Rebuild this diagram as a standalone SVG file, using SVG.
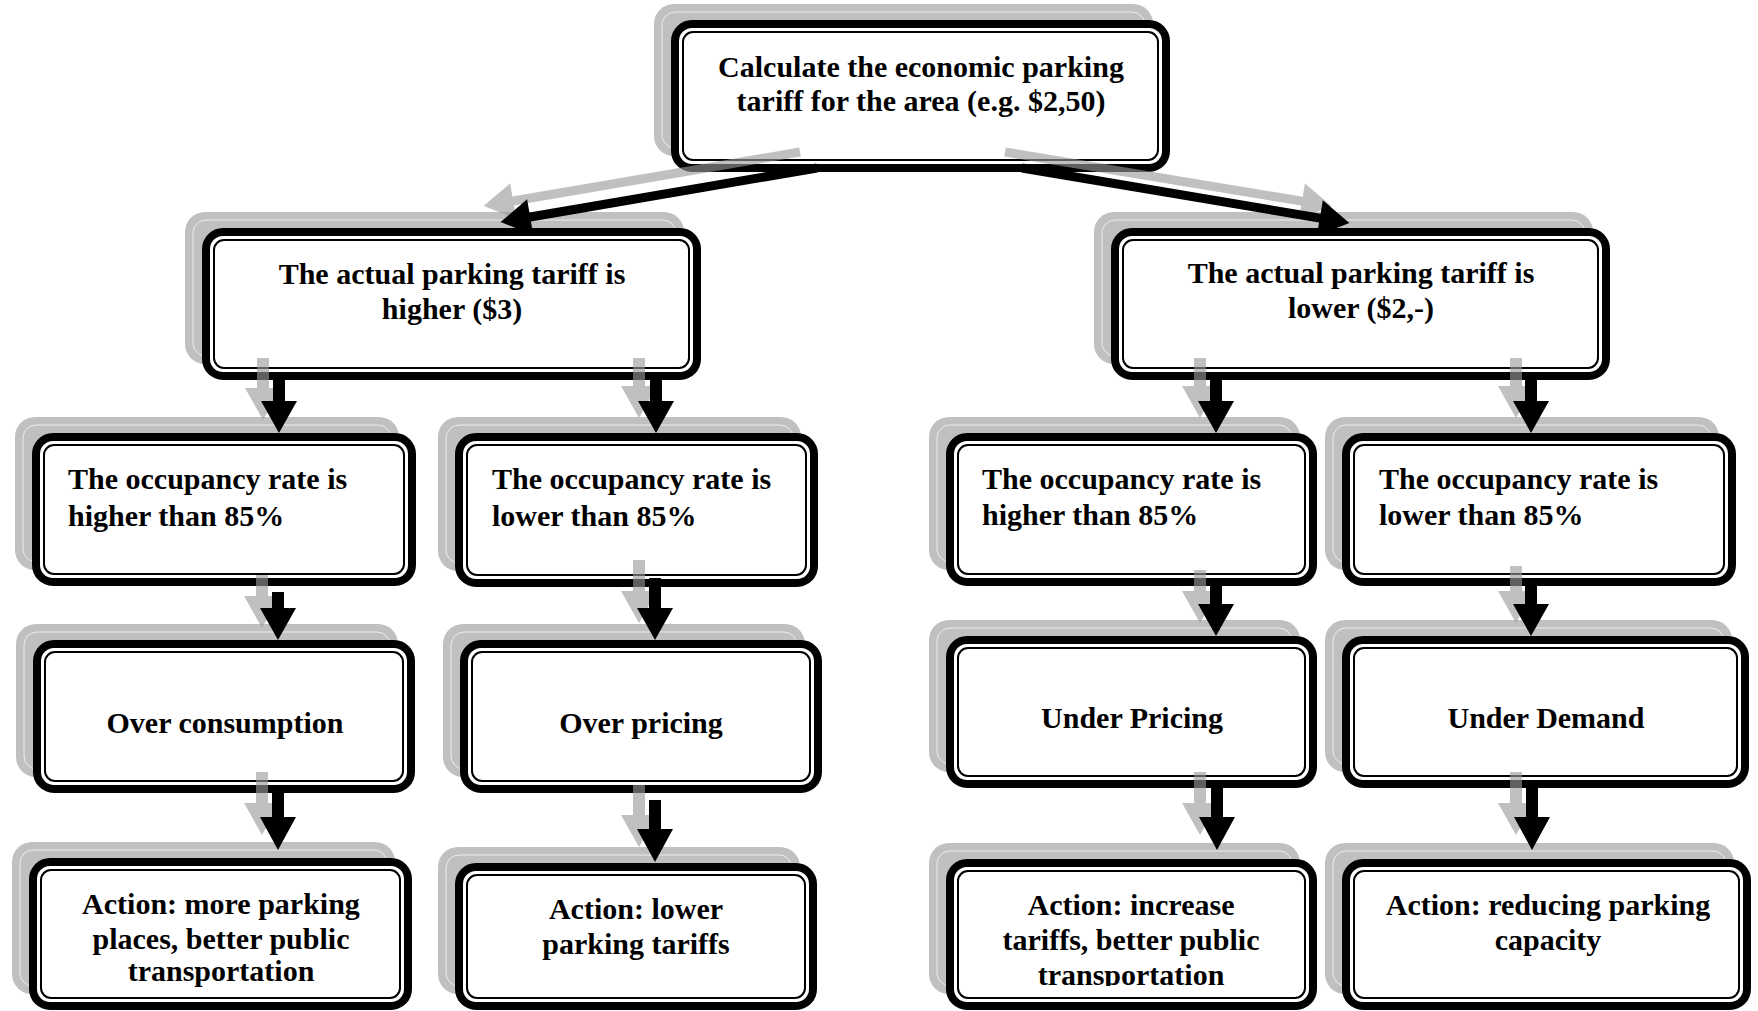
<svg xmlns="http://www.w3.org/2000/svg" width="1758" height="1011" viewBox="0 0 1758 1011">
<style>
.sh{fill:#c0c0c0}
.shl{fill:none;stroke:#ffffff;stroke-width:1;opacity:0.7}
.ob{fill:#ffffff;stroke:#000000;stroke-width:8}
.ib{fill:none;stroke:#000000;stroke-width:2}
.t{font-family:"Liberation Serif","Times New Roman",serif;font-weight:bold;font-size:30px;fill:#000000}
.c{text-anchor:middle}
.ga{fill:#999999;opacity:0.62}
.ba{fill:#000000}
</style>
<defs>
<clipPath id="clipR5a"><rect x="940" y="850" width="380" height="136"/></clipPath>
</defs>
<rect x="0" y="0" width="1758" height="1011" fill="#ffffff"/>

<g id="n0">
<rect class="sh" x="654" y="4" width="499" height="152" rx="20"/>
<rect class="shl" x="662" y="12" width="483" height="136" rx="13"/>
<rect class="ob" x="675" y="24" width="491" height="144" rx="17"/>
<rect class="ib" x="683" y="32" width="475" height="128" rx="10"/>
<text class="t c" x="921" y="77">Calculate the economic parking</text>
<text class="t c" x="921" y="111">tariff for the area (e.g. $2,50)</text>
</g>

<g id="n1">
<rect class="sh" x="185" y="212" width="499" height="152" rx="20"/>
<rect class="shl" x="193" y="220" width="483" height="136" rx="13"/>
<rect class="ob" x="206" y="232" width="491" height="144" rx="17"/>
<rect class="ib" x="214" y="240" width="475" height="128" rx="10"/>
<text class="t c" x="452" y="284">The actual parking tariff is</text>
<text class="t c" x="452" y="319">higher ($3)</text>
</g>

<g id="n2">
<rect class="sh" x="1094" y="212" width="499" height="152" rx="20"/>
<rect class="shl" x="1102" y="220" width="483" height="136" rx="13"/>
<rect class="ob" x="1115" y="232" width="491" height="144" rx="17"/>
<rect class="ib" x="1123" y="240" width="475" height="128" rx="10"/>
<text class="t c" x="1361" y="283">The actual parking tariff is</text>
<text class="t c" x="1361" y="318">lower ($2,-)</text>
</g>

<g id="n3">
<rect class="sh" x="15" y="417" width="384" height="153" rx="20"/>
<rect class="shl" x="23" y="425" width="368" height="137" rx="13"/>
<rect class="ob" x="36" y="437" width="376" height="145" rx="17"/>
<rect class="ib" x="44" y="445" width="360" height="129" rx="10"/>
<text class="t" x="68" y="489">The occupancy rate is</text>
<text class="t" x="68" y="526">higher than 85%</text>
</g>

<g id="n4">
<rect class="sh" x="438" y="417" width="363" height="154" rx="20"/>
<rect class="shl" x="446" y="425" width="347" height="138" rx="13"/>
<rect class="ob" x="459" y="437" width="355" height="146" rx="17"/>
<rect class="ib" x="467" y="445" width="339" height="130" rx="10"/>
<text class="t" x="492" y="489">The occupancy rate is</text>
<text class="t" x="492" y="526">lower than 85%</text>
</g>

<g id="n5">
<rect class="sh" x="929" y="417" width="371" height="153" rx="20"/>
<rect class="shl" x="937" y="425" width="355" height="137" rx="13"/>
<rect class="ob" x="950" y="437" width="363" height="145" rx="17"/>
<rect class="ib" x="958" y="445" width="347" height="129" rx="10"/>
<text class="t" x="982" y="489">The occupancy rate is</text>
<text class="t" x="982" y="525">higher than 85%</text>
</g>

<g id="n6">
<rect class="sh" x="1325" y="417" width="394" height="153" rx="20"/>
<rect class="shl" x="1333" y="425" width="378" height="137" rx="13"/>
<rect class="ob" x="1346" y="437" width="386" height="145" rx="17"/>
<rect class="ib" x="1354" y="445" width="370" height="129" rx="10"/>
<text class="t" x="1379" y="489">The occupancy rate is</text>
<text class="t" x="1379" y="525">lower than 85%</text>
</g>

<g id="n7">
<rect class="sh" x="16" y="624" width="382" height="153" rx="20"/>
<rect class="shl" x="24" y="632" width="366" height="137" rx="13"/>
<rect class="ob" x="37" y="644" width="374" height="145" rx="17"/>
<rect class="ib" x="45" y="652" width="358" height="129" rx="10"/>
<text class="t c" x="225" y="733">Over consumption</text>
</g>

<g id="n8">
<rect class="sh" x="443" y="624" width="362" height="153" rx="20"/>
<rect class="shl" x="451" y="632" width="346" height="137" rx="13"/>
<rect class="ob" x="464" y="644" width="354" height="145" rx="17"/>
<rect class="ib" x="472" y="652" width="338" height="129" rx="10"/>
<text class="t c" x="641" y="733">Over pricing</text>
</g>

<g id="n9">
<rect class="sh" x="929" y="620" width="371" height="152" rx="20"/>
<rect class="shl" x="937" y="628" width="355" height="136" rx="13"/>
<rect class="ob" x="950" y="640" width="363" height="144" rx="17"/>
<rect class="ib" x="958" y="648" width="347" height="128" rx="10"/>
<text class="t c" x="1132" y="728">Under Pricing</text>
</g>

<g id="n10">
<rect class="sh" x="1325" y="620" width="407" height="152" rx="20"/>
<rect class="shl" x="1333" y="628" width="391" height="136" rx="13"/>
<rect class="ob" x="1346" y="640" width="399" height="144" rx="17"/>
<rect class="ib" x="1354" y="648" width="383" height="128" rx="10"/>
<text class="t c" x="1546" y="728">Under Demand</text>
</g>

<g id="n11">
<rect class="sh" x="12" y="842" width="383" height="152" rx="20"/>
<rect class="shl" x="20" y="850" width="367" height="136" rx="13"/>
<rect class="ob" x="33" y="862" width="375" height="144" rx="17"/>
<rect class="ib" x="41" y="870" width="359" height="128" rx="10"/>
<text class="t c" x="221" y="914">Action: more parking</text>
<text class="t c" x="221" y="949">places, better public</text>
<text class="t c" x="221" y="981">transportation</text>
</g>

<g id="n12">
<rect class="sh" x="438" y="847" width="362" height="147" rx="20"/>
<rect class="shl" x="446" y="855" width="346" height="131" rx="13"/>
<rect class="ob" x="459" y="867" width="354" height="139" rx="17"/>
<rect class="ib" x="467" y="875" width="338" height="123" rx="10"/>
<text class="t c" x="636" y="919">Action: lower</text>
<text class="t c" x="636" y="954">parking tariffs</text>
</g>

<g id="n13">
<rect class="sh" x="929" y="843" width="371" height="151" rx="20"/>
<rect class="shl" x="937" y="851" width="355" height="135" rx="13"/>
<rect class="ob" x="950" y="863" width="363" height="143" rx="17"/>
<rect class="ib" x="958" y="871" width="347" height="127" rx="10"/>
<text class="t c" x="1131" y="915">Action: increase</text>
<text class="t c" x="1131" y="950">tariffs, better public</text>
<text class="t c" x="1131" y="985" clip-path="url(#clipR5a)">transportation</text>
</g>

<g id="n14">
<rect class="sh" x="1325" y="843" width="409" height="151" rx="20"/>
<rect class="shl" x="1333" y="851" width="393" height="135" rx="13"/>
<rect class="ob" x="1346" y="863" width="401" height="143" rx="17"/>
<rect class="ib" x="1354" y="871" width="385" height="127" rx="10"/>
<text class="t c" x="1548" y="915">Action: reducing parking</text>
<text class="t c" x="1548" y="950">capacity</text>
</g>

<g id="connectors">
<polygon class="ga" transform="translate(800,152) rotate(170.3)" points="0,-4.5 291,-4.5 291,-18 321,0 291,18 291,4.5 0,4.5"/>
<polygon class="ga" transform="translate(1005,152) rotate(9.4)" points="0,-4.5 301,-4.5 301,-18 331,0 301,18 301,4.5 0,4.5"/>
<polygon class="ga" points="257,358 269,358 269,388 281,388 263,420 245,388 257,388"/>
<polygon class="ga" points="633,358 645,358 645,386 657,386 639,418 621,386 633,386"/>
<polygon class="ga" points="1194,358 1206,358 1206,386 1218,386 1200,418 1182,386 1194,386"/>
<polygon class="ga" points="1510,358 1522,358 1522,386 1534,386 1516,418 1498,386 1510,386"/>
<polygon class="ga" points="256,575 268,575 268,596 280,596 262,628 244,596 256,596"/>
<polygon class="ga" points="633,560 645,560 645,591 657,591 639,623 621,591 633,591"/>
<polygon class="ga" points="1194,570 1206,570 1206,591 1218,591 1200,623 1182,591 1194,591"/>
<polygon class="ga" points="1510,566 1522,566 1522,591 1534,591 1516,623 1498,591 1510,591"/>
<polygon class="ga" points="256,772 268,772 268,803 280,803 262,835 244,803 256,803"/>
<polygon class="ga" points="633,785 645,785 645,815 657,815 639,847 621,815 633,815"/>
<polygon class="ga" points="1194,772 1206,772 1206,803 1218,803 1200,835 1182,803 1194,803"/>
<polygon class="ga" points="1510,772 1522,772 1522,803 1534,803 1516,835 1498,803 1510,803"/>
<polygon class="ba" transform="translate(817,168) rotate(170.3)" points="0,-4.5 291,-4.5 291,-18 321,0 291,18 291,4.5 0,4.5"/>
<polygon class="ba" transform="translate(1022,168) rotate(9.55)" points="0,-4.5 302,-4.5 302,-18 332,0 302,18 302,4.5 0,4.5"/>
<polygon class="ba" points="273,374 285,374 285,401 297,401 279,433 261,401 273,401"/>
<polygon class="ba" points="650,374 662,374 662,401 674,401 656,433 638,401 650,401"/>
<polygon class="ba" points="1210,374 1222,374 1222,401 1234,401 1216,433 1198,401 1210,401"/>
<polygon class="ba" points="1525,374 1537,374 1537,401 1549,401 1531,433 1513,401 1525,401"/>
<polygon class="ba" points="272,592 284,592 284,608 296,608 278,640 260,608 272,608"/>
<polygon class="ba" points="649,578 661,578 661,608 673,608 655,640 637,608 649,608"/>
<polygon class="ba" points="1210,582 1222,582 1222,604 1234,604 1216,636 1198,604 1210,604"/>
<polygon class="ba" points="1525,580 1537,580 1537,604 1549,604 1531,636 1513,604 1525,604"/>
<polygon class="ba" points="272,789 284,789 284,817 296,817 278,850 260,817 272,817"/>
<polygon class="ba" points="649,800 661,800 661,829 673,829 655,862 637,829 649,829"/>
<polygon class="ba" points="1211,784 1223,784 1223,817 1235,817 1217,850 1199,817 1211,817"/>
<polygon class="ba" points="1526,784 1538,784 1538,817 1550,817 1532,850 1514,817 1526,817"/>
</g>
</svg>
